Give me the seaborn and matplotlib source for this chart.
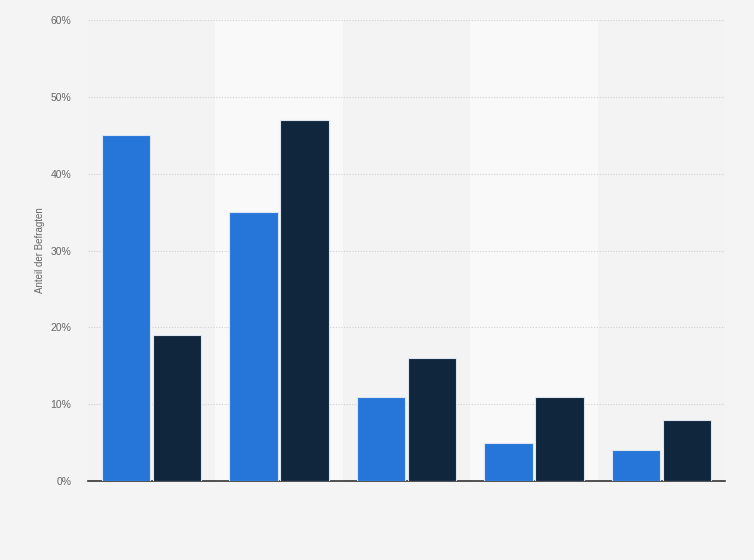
import matplotlib
matplotlib.use("Agg")
import matplotlib.pyplot as plt
import seaborn as sns
import pandas as pd
from matplotlib.ticker import FuncFormatter

categories = ["A", "B", "C", "D", "E"]
series_names = ["Serie 1", "Serie 2"]
values_1 = [45, 35, 11, 5, 4]
values_2 = [19, 47, 16, 11, 8]
y_ticks = [0, 10, 20, 30, 40, 50, 60]

df = pd.DataFrame({
    "cat": categories * 2,
    "series": [series_names[0]] * len(categories) + [series_names[1]] * len(categories),
    "val": values_1 + values_2,
})

sns.set_style("white")
plt.rcParams['font.family'] = ['Liberation Sans', 'DejaVu Sans']

fig = plt.figure(figsize=(7.54, 5.6), dpi=100, facecolor="#f4f4f4")
ax = fig.add_axes([0.1167, 0.141, 0.8448, 0.823])
ax.set_facecolor("#f3f3f3")

for i in range(len(categories)):
    if i % 2 == 1:
        ax.axvspan(i - 0.5, i + 0.5, color="#f9f9f9", zorder=0, lw=0)

sns.barplot(data=df, x="cat", y="val", hue="series", ax=ax,
            palette=["#2675d9", "#10263d"], saturation=1, width=0.8, gap=0.05,
            edgecolor="#dde6f0", linewidth=0.8, legend=False, zorder=3)

ax.set_xlim(-0.5, len(categories) - 0.5)
ax.set_ylim(0, 60)
ax.set_yticks(y_ticks)
ax.yaxis.set_major_formatter(FuncFormatter(lambda v, p: f"{int(v)}%"))
ax.grid(axis="y", color="#cfcfcf", linestyle=(0, (1, 1.5)), linewidth=0.8, zorder=1)
ax.set_axisbelow(True)
ax.set_xticks([])
ax.set_xlabel("")
ax.set_ylabel("Anteil der Befragten", fontsize=7, color="#666666", labelpad=4)
ax.tick_params(axis="y", length=0, labelsize=7.5, labelcolor="#666666", pad=12)
for s in ["top", "right", "left"]:
    ax.spines[s].set_visible(False)
ax.spines["bottom"].set_color("#333333")
ax.spines["bottom"].set_linewidth(1.2)

fig.savefig("out.png", dpi=100, facecolor=fig.get_facecolor())
